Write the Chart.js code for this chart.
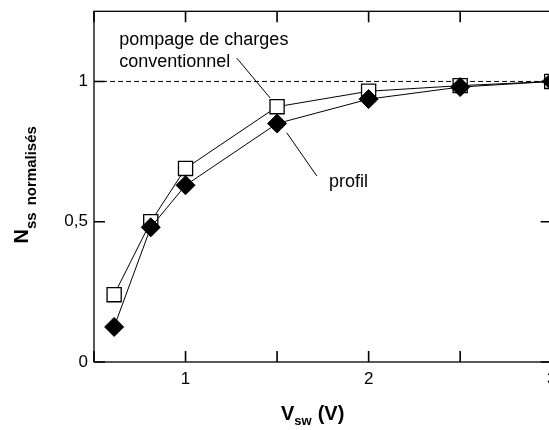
<!DOCTYPE html>
<html>
<head>
<meta charset="utf-8">
<script src="https://cdn.jsdelivr.net/npm/chart.js@4/dist/chart.umd.min.js"></script>
<style>
  html, body { margin: 0; padding: 0; background: #fff; overflow: hidden; width: 549px; height: 430px; }
  canvas { display: block; }
</style>
</head>
<body>
<canvas id="c" width="600" height="430"></canvas>
<script>
// Switching voltage (V) and normalised interface-state density
const vsw = [0.61, 0.81, 1.0, 1.5, 2.0, 2.5, 3.0];
const nssConventionnel = [0.24, 0.50, 0.69, 0.91, 0.965, 0.985, 1.0];
const nssProfil = [0.125, 0.48, 0.63, 0.85, 0.937, 0.98, 1.0];

const xTicks = [0.5, 1, 1.5, 2, 2.5, 3];
const xTickLabels = ['', '1', '', '2', '', '3'];
const yTicks = [0, 0.5, 1];
const yTickLabels = ['0', '0,5', '1'];
const referenceLevel = 1;

const FONT = "'Liberation Sans', Arial, Helvetica, sans-serif";
const INK = '#000';

// callout texts and their leader lines, in data units
const notes = [
  { text: 'pompage de charges', x: 0.638, y: 1.129 },
  { text: 'conventionnel', x: 0.638, y: 1.053 },
  { text: 'profil', x: 1.783, y: 0.624 }
];
const leaders = [
  [[1.28, 1.083], [1.462, 0.941]],
  [[1.553, 0.817], [1.717, 0.663]]
];

const toPoints = (xs, ys) => xs.map((x, i) => ({ x, y: ys[i] }));

// frame around the plot area
function drawFrame(chart) {
  const { ctx, chartArea: a } = chart;
  ctx.save();
  ctx.strokeStyle = INK;
  ctx.lineWidth = 1.3;
  ctx.setLineDash([]);
  ctx.strokeRect(a.left, a.top, a.right - a.left, a.bottom - a.top);
  ctx.restore();
}

// inward tick marks on all four sides
function drawInwardTicks(chart) {
  const { ctx, chartArea: a, scales } = chart;
  const len = 11;
  ctx.save();
  ctx.strokeStyle = INK;
  ctx.lineWidth = 1.6;
  ctx.lineCap = 'butt';
  ctx.setLineDash([]);
  ctx.beginPath();
  for (const v of xTicks) {
    const px = scales.x.getPixelForValue(v);
    ctx.moveTo(px, a.bottom); ctx.lineTo(px, a.bottom - len);
    ctx.moveTo(px, a.top); ctx.lineTo(px, a.top + len);
  }
  for (const v of yTicks) {
    const py = scales.y.getPixelForValue(v);
    ctx.moveTo(a.left, py); ctx.lineTo(a.left + len, py);
    ctx.moveTo(a.right, py); ctx.lineTo(a.right - len, py);
  }
  ctx.stroke();
  ctx.restore();
}

const framePlugin = {
  id: 'frame',
  beforeDatasetsDraw(chart) { drawFrame(chart); drawInwardTicks(chart); },
  afterDatasetsDraw(chart) {
    const { ctx, scales } = chart;
    const X = v => scales.x.getPixelForValue(v);
    const Y = v => scales.y.getPixelForValue(v);
    ctx.save();
    ctx.strokeStyle = INK;
    ctx.lineWidth = 1;
    ctx.setLineDash([]);
    ctx.beginPath();
    leaders.forEach(([p, q]) => {
      ctx.moveTo(X(p[0]), Y(p[1]));
      ctx.lineTo(X(q[0]), Y(q[1]));
    });
    ctx.stroke();
    ctx.fillStyle = INK;
    ctx.font = '18px ' + FONT;
    ctx.textBaseline = 'alphabetic';
    ctx.textAlign = 'left';
    notes.forEach(n => ctx.fillText(n.text, X(n.x), Y(n.y)));
    ctx.restore();
  },
  afterDraw(chart) {
    const { ctx } = chart;
    ctx.save();
    ctx.fillStyle = INK;
    ctx.textBaseline = 'alphabetic';
    ctx.textAlign = 'left';

    // x-axis title: V_sw (V)
    let x = 281;
    ctx.font = 'bold 20px ' + FONT;
    ctx.fillText('V', x, 419.5);
    x += ctx.measureText('V').width;
    ctx.font = 'bold 13px ' + FONT;
    ctx.fillText('sw', x, 424.5);
    x += ctx.measureText('sw').width + 6;
    ctx.font = 'bold 20px ' + FONT;
    ctx.fillText('(V)', x, 419.5);

    // y-axis title: N_ss normalisés (rotated)
    ctx.rotate(-Math.PI / 2);
    let s = -243.5;
    ctx.font = 'bold 20px ' + FONT;
    ctx.fillText('N', s, 28.3);
    s += ctx.measureText('N').width;
    ctx.font = 'bold 15px ' + FONT;
    ctx.fillText('ss', s, 36);
    s += ctx.measureText('ss').width + 7;
    ctx.fillText('normalisés', s, 36);
    ctx.restore();
  }
};

new Chart(document.getElementById('c'), {
  type: 'scatter',
  data: {
    datasets: [
      {
        label: 'profil',
        data: toPoints(vsw, nssProfil),
        showLine: true,
        borderColor: INK,
        borderWidth: 1,
        pointStyle: 'rectRot',
        pointRadius: 9.5,
        pointBackgroundColor: INK,
        pointBorderColor: INK,
        pointBorderWidth: 1,
        clip: false
      },
      {
        label: 'pompage de charges conventionnel',
        data: toPoints(vsw, nssConventionnel),
        showLine: true,
        borderColor: INK,
        borderWidth: 1,
        pointStyle: 'rect',
        pointRadius: 10,
        pointBackgroundColor: '#fff',
        pointBorderColor: INK,
        pointBorderWidth: 1.3,
        clip: false
      },
      {
        label: 'référence',
        data: [{ x: xTicks[0], y: referenceLevel }, { x: xTicks[xTicks.length - 1], y: referenceLevel }],
        showLine: true,
        borderColor: INK,
        borderWidth: 1,
        borderDash: [5, 3],
        pointRadius: 0
      }
    ]
  },
  options: {
    responsive: false,
    animation: false,
    devicePixelRatio: 1,
    layout: { padding: { left: 0, top: 9, right: 48.3, bottom: 0 } },
    plugins: { legend: { display: false }, tooltip: { enabled: false } },
    scales: {
      x: {
        type: 'linear',
        min: 0.5,
        max: 3,
        afterBuildTicks: s => { s.ticks = xTicks.map(v => ({ value: v })); },
        afterFit: s => { s.height = 68; s.paddingLeft = 0; s.paddingRight = 0; },
        grid: { display: false },
        border: { display: false },
        ticks: {
          autoSkip: false,
          maxRotation: 0,
          padding: -1,
          color: INK,
          font: { family: FONT, size: 17 },
          callback: v => xTickLabels[xTicks.indexOf(v)] ?? ''
        }
      },
      y: {
        type: 'linear',
        min: 0,
        max: 1.25,
        afterBuildTicks: s => { s.ticks = yTicks.map(v => ({ value: v })); },
        afterFit: s => { s.width = 94; s.paddingTop = 0; s.paddingBottom = 0; },
        grid: { display: false },
        border: { display: false },
        ticks: {
          padding: -2,
          color: INK,
          font: { family: FONT, size: 17 },
          callback: v => yTickLabels[yTicks.indexOf(v)] ?? ''
        }
      }
    }
  },
  plugins: [framePlugin]
});
</script>
</body>
</html>
